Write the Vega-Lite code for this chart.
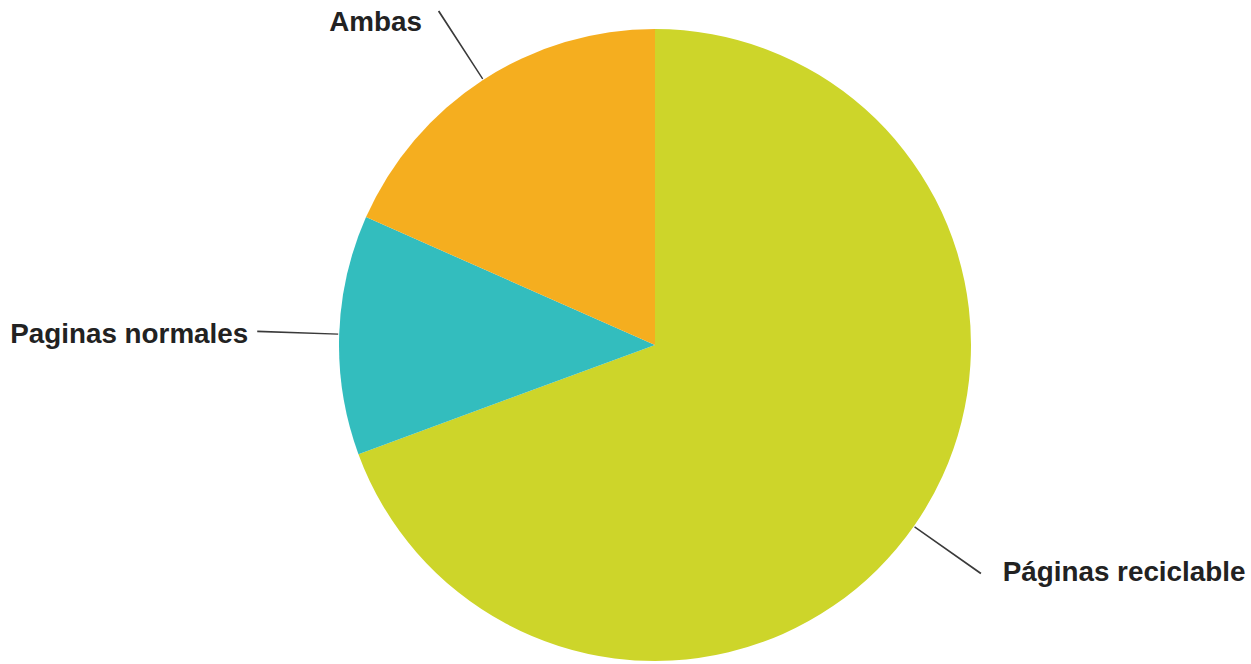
{
  "$schema": "https://vega.github.io/schema/vega-lite/v6.json",
  "width": 1192,
  "height": 638,
  "padding": {"left": 59, "top": 26, "right": 0, "bottom": 0},
  "autosize": "none",
  "background": "#ffffff",
  "config": {"view": {"stroke": null}},
  "data": {
    "values": [
      {"categoria": "Páginas reciclable", "orden": 1, "valor": 34},
      {"categoria": "Paginas normales", "orden": 2, "valor": 6},
      {"categoria": "Ambas", "orden": 3, "valor": 9}
    ]
  },
  "transform": [
    {"window": [{"op": "sum", "field": "valor", "as": "acum"}], "sort": [{"field": "orden"}]},
    {"calculate": "datum.acum - datum.valor / 2", "as": "medio"},
    {"calculate": "datum.medio + 0.035", "as": "medio2"}
  ],
  "layer": [
    {
      "mark": {"type": "arc", "outerRadius": 316},
      "encoding": {
        "theta": {"field": "valor", "type": "quantitative", "stack": true, "scale": {"domain": [0, 49]}},
        "order": {"field": "orden", "type": "ordinal"},
        "color": {
          "field": "categoria",
          "type": "nominal",
          "legend": null,
          "scale": {
            "domain": ["Páginas reciclable", "Paginas normales", "Ambas"],
            "range": ["#CDD52A", "#33BDBE", "#F5AE1F"]
          }
        }
      }
    },
    {
      "mark": {"type": "arc", "radius": 317, "radius2": 398, "fill": "#3a3a3a"},
      "encoding": {
        "theta": {"field": "medio", "type": "quantitative", "stack": null},
        "theta2": {"field": "medio2"}
      }
    },
    {
      "transform": [{"filter": "datum.orden == 3"}],
      "mark": {"type": "text", "radius": 396, "align": "right", "baseline": "middle", "dx": -17, "dy": 10, "font": "Liberation Sans", "fontWeight": "bold", "fontSize": 27.8, "color": "#222222"},
      "encoding": {
        "theta": {"field": "medio", "type": "quantitative", "stack": null},
        "text": {"field": "categoria"}
      }
    },
    {
      "transform": [{"filter": "datum.orden == 2"}],
      "mark": {"type": "text", "radius": 396, "align": "right", "baseline": "middle", "dx": -11, "dy": 3, "font": "Liberation Sans", "fontWeight": "bold", "fontSize": 27.8, "color": "#222222"},
      "encoding": {
        "theta": {"field": "medio", "type": "quantitative", "stack": null},
        "text": {"field": "categoria"}
      }
    },
    {
      "transform": [{"filter": "datum.orden == 1"}],
      "mark": {"type": "text", "radius": 396, "align": "left", "baseline": "middle", "dx": 23, "dy": 1, "font": "Liberation Sans", "fontWeight": "bold", "fontSize": 27.8, "color": "#222222"},
      "encoding": {
        "theta": {"field": "medio", "type": "quantitative", "stack": null},
        "text": {"field": "categoria"}
      }
    }
  ]
}
